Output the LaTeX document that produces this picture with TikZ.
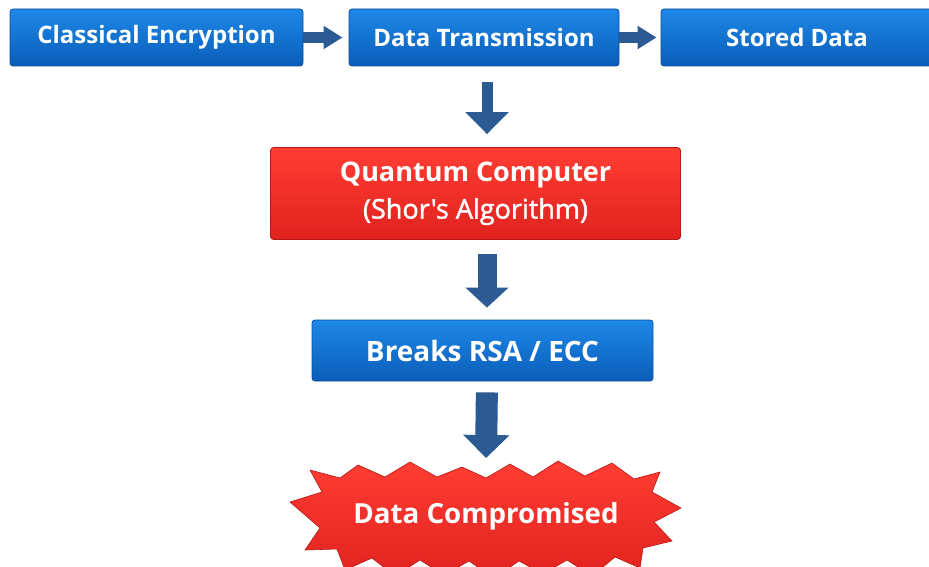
\documentclass[tikz,border=0pt]{standalone}
\usepackage{fontspec}
\setmainfont{Open Sans}
\newfontfamily\semib[FakeBold=1.6]{Open Sans}
\usetikzlibrary{arrows.meta,calc}
\definecolor{bluetop}{HTML}{1E88E8}
\definecolor{bluebot}{HTML}{0A5DB8}
\definecolor{blueedge}{HTML}{0B4F9A}
\definecolor{redtop}{HTML}{FF3D33}
\definecolor{redbot}{HTML}{E0221E}
\definecolor{rededge}{HTML}{B51A17}
\definecolor{arrowblue}{HTML}{2C5A93}
\tikzset{
  boxbase/.style={line width=0.8pt, rounded corners=3pt, text=white, inner sep=0pt, align=center},
  bluebox/.style={boxbase, draw=blueedge, top color=bluetop, bottom color=bluebot,
    font=\bfseries\fontsize{24}{28}\selectfont},
  redbox/.style={boxbase, draw=rededge, top color=redtop, bottom color=redbot,
    font=\fontsize{27}{37}\selectfont},
  burst/.style={draw=rededge, line width=0.6pt, top color=redtop, bottom color=redbot},
  flowarrow/.style={draw=arrowblue, color=arrowblue}
}
\begin{document}
\begin{tikzpicture}[x=1pt,y=-1pt]
\useasboundingbox (0,0) rectangle (929,567);
\fill[white] (0,0) rectangle (929,567);
% top row
\node[bluebox, minimum width=293pt, minimum height=57pt] (ce) at (156.5,37.5) {Classical Encryption};
\node[bluebox, minimum width=270pt, minimum height=57pt] (dt) at (484,37.5) {Data Transmission};
\node[bluebox, minimum width=272pt, minimum height=57pt] (sd) at (797,37.5) {Stored Data};
% quantum
\node[redbox, minimum width=410pt, minimum height=92pt] (qc) at (475.5,193.5)
  {\bfseries Quantum Computer\\ {\semib (Shor's Algorithm)}};
% breaks
\node[bluebox, minimum width=341pt, minimum height=61pt, font=\bfseries\fontsize{28}{32}\selectfont] (br) at (482.5,350.5) {Breaks RSA / ECC};
% starburst
\path[burst] (290,502) -- (322,492) -- (310,470) -- (340,478) -- (358,465) -- (385,477)
  -- (410,462) -- (437,477) -- (462,467) -- (486,478) -- (510,464) -- (533,477)
  -- (558,461) -- (585,476) -- (612,463) -- (634,479) -- (660,472) -- (652,492)
  -- (681,508) -- (654,522) -- (672,541) -- (643,548) -- (640,568) -- (615,557)
  -- (592,576) -- (567,560) -- (543,574) -- (519,561) -- (494,578) -- (469,561)
  -- (444,575) -- (420,560) -- (395,576) -- (372,558) -- (345,570) -- (337,549)
  -- (305,550) -- (320,528) -- cycle;
\node[text=white, font=\bfseries\fontsize{27.7}{32}\selectfont, inner sep=0pt] (dc) at (486,516) {Data Compromised};
\coordinate (dctop) at (486,462);
\coordinate (colx) at (487,0);
% arrows
\draw[flowarrow, line width=11pt, -{Triangle[width=22pt,length=19pt]}, shorten >=6pt] (ce.east) -- (dt.west);
\draw[flowarrow, line width=11pt, -{Triangle[width=22pt,length=19pt]}, shorten >=4pt] (dt.east) -- (sd.west);
\draw[flowarrow, line width=11pt, -{Triangle[width=42pt,length=22pt]}, shorten <=16pt, shorten >=13pt] (colx |- dt.south) -- (colx |- qc.north);
\draw[flowarrow, line width=19pt, -{Triangle[width=42pt,length=20pt]}, shorten <=14pt, shorten >=12pt] (colx |- qc.south) -- (colx |- br.north);
\draw[flowarrow, line width=22pt, -{Triangle[width=45pt,length=23pt]}, shorten <=11pt, shorten >=4pt] (colx |- br.south) -- (dctop);
\end{tikzpicture}
\end{document}
